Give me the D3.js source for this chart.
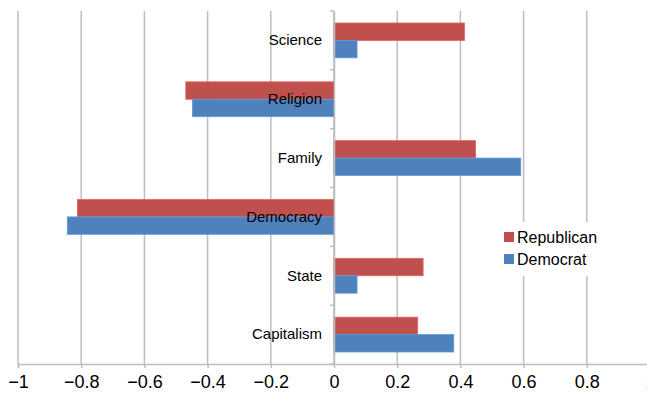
<!DOCTYPE html>
<html><head><meta charset="utf-8">
<script src="https://cdn.jsdelivr.net/npm/d3@7"></script>
<style>body{margin:0;background:#fff}svg{display:block}text{font-family:"Liberation Sans",Arial,sans-serif}</style>
</head><body>
<svg id="c" width="647" height="393"></svg>
<script>
const categories = ["Science","Religion","Family","Democracy","State","Capitalism"];
const republican = [0.413, -0.469, 0.448, -0.812, 0.282, 0.265];
const democrat = [0.073, -0.448, 0.591, -0.844, 0.073, 0.379];
const seriesNames = ["Republican","Democrat"];
const colors = ["#c0504d","#4f81bd"];
const xTicks = [-1,-0.8,-0.6,-0.4,-0.2,0,0.2,0.4,0.6,0.8,1];

const svg = d3.select("#c");
const x = d3.scaleLinear().domain([-1,1]).range([18,650]);
const y = d3.scaleBand().domain(categories).range([11,364]).paddingInner(0).paddingOuter(0);
const inner = d3.scaleBand().domain(seriesNames).range([12, y.bandwidth()-12]);

// gridlines
svg.append("g").selectAll("line").data(xTicks).join("line")
  .attr("x1",d=>x(d)).attr("x2",d=>x(d)).attr("y1",11).attr("y2",364)
  .attr("stroke","#bdbdbd").attr("stroke-width",1.5);

// x axis
const xa = svg.append("g").attr("transform","translate(0,364)")
  .call(d3.axisBottom(x).tickValues(xTicks).tickSize(4).tickPadding(7)
    .tickFormat(d=>d3.format("")(d).replace("-","\u2212")));
xa.select(".domain").attr("stroke","#bdbdbd").attr("stroke-width",1.5);
xa.selectAll(".tick line").attr("stroke","#bdbdbd").attr("stroke-width",1.5);
xa.selectAll("text").attr("font-size",18).attr("fill","#000");

// bars
const data = categories.map((c,i)=>({c, vals:[republican[i], democrat[i]]}));
const g = svg.append("g");
data.forEach(d=>{
  d.vals.forEach((v,j)=>{
    g.append("rect")
      .attr("x", x(Math.min(0,v)))
      .attr("width", Math.abs(x(v)-x(0)))
      .attr("y", y(d.c)+inner(seriesNames[j]))
      .attr("height", inner.bandwidth())
      .attr("fill", colors[j])
      .attr("stroke", d3.color(colors[j]).brighter(0.5)).attr("stroke-width",0.8);
  });
});

// y axis
const ya = svg.append("g").attr("transform",`translate(${x(0)},0)`)
  .call(d3.axisLeft(y).tickSize(0).tickPadding(12));
ya.select(".domain").attr("stroke","#bdbdbd").attr("stroke-width",1.5);
ya.selectAll("text").attr("font-size",15).attr("fill","#000");
// boundary ticks
svg.append("g").selectAll("line").data(d3.range(categories.length+1)).join("line")
  .attr("x1",x(0)-4).attr("x2",x(0))
  .attr("y1",i=>11+i*y.step()).attr("y2",i=>11+i*y.step())
  .attr("stroke","#bdbdbd").attr("stroke-width",1.5);

// legend
const lg = svg.append("g");
lg.append("rect").attr("x",498).attr("y",222).attr("width",116).attr("height",54).attr("fill","#fff");
seriesNames.forEach((s,j)=>{
  lg.append("rect").attr("x",504).attr("y",232+j*22).attr("width",10).attr("height",10).attr("fill",colors[j]);
  lg.append("text").attr("x",517).attr("y",237+j*22).attr("dy","0.35em")
    .attr("font-size",16).attr("fill","#000").text(s);
});
</script>
</body></html>
